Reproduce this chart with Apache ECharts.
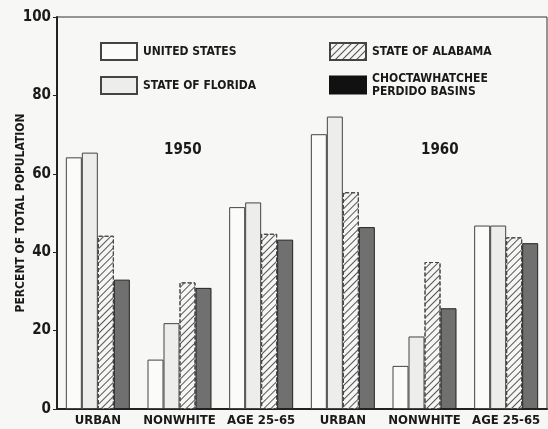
<!DOCTYPE html>
<html>
<head>
<meta charset="utf-8">
<script src="https://cdn.jsdelivr.net/npm/echarts@6/dist/echarts.min.js"></script>
<style>
  html, body { margin: 0; padding: 0; background: #f7f7f5; }
  #chart { width: 548px; height: 429px; }
</style>
</head>
<body>
<div id="chart"></div>
<script>
const categories = ['URBAN', 'NONWHITE', 'AGE 25-65', 'URBAN', 'NONWHITE', 'AGE 25-65'];
const seriesNames = ['UNITED STATES', 'STATE OF FLORIDA', 'STATE OF ALABAMA', 'CHOCTAWHATCHEE\nPERDIDO BASINS'];
const unitedStates = [64.2, 12.6, 51.5, 70.1, 11.0, 46.8];
const florida = [65.4, 21.9, 52.7, 74.6, 18.5, 46.8];
const alabama = [44.2, 32.3, 44.7, 55.3, 37.5, 43.8];
const basins = [33.0, 30.9, 43.2, 46.4, 25.7, 42.3];
const yTicks = [0, 20, 40, 60, 80, 100];
const yearLabels = ['1950', '1960'];

const FONT = 'DejaVu Sans Condensed';
const INK = '#1a1a1a';

const chart = echarts.init(document.getElementById('chart'));

// diagonal "/" hatching for Alabama
const hatch = {
    symbol: 'rect',
    symbolSize: 1,
    dashArrayX: [1, 0],
    dashArrayY: [1, 4],
    rotation: -Math.PI / 4,
    color: '#555'
};

function bar(name, data, style) {
    return {
        name: name,
        type: 'bar',
        data: data,
        barWidth: 16,
        barGap: '0%',
        itemStyle: style
    };
}

const legendText = { fontFamily: FONT, fontWeight: 'bold', fontSize: 12, color: INK, lineHeight: 13, padding: [0, 0, 0, 1] };

const option = {
    backgroundColor: '#f7f7f5',
    animation: false,
    textStyle: { fontFamily: FONT, fontWeight: 'bold', color: INK },
    grid: {
        left: 57, right: 1, top: 17, bottom: 20,
        containLabel: false, outerBoundsMode: 'none',
        show: true, borderColor: '#333', borderWidth: 1, backgroundColor: 'transparent'
    },
    legend: [
        {
            data: [seriesNames[0], seriesNames[1]],
            orient: 'vertical', left: 100, top: 42, padding: 0,
            icon: 'rect',
            itemWidth: 36, itemHeight: 17, itemGap: 15,
            textStyle: legendText
        },
        {
            data: [
                seriesNames[2],
                { name: seriesNames[3], itemStyle: { color: '#111', borderColor: '#111' } }
            ],
            orient: 'vertical', left: 329, top: 42, padding: 0,
            icon: 'rect',
            itemWidth: 36, itemHeight: 17, itemGap: 11,
            textStyle: legendText
        }
    ],
    xAxis: {
        type: 'category',
        data: categories,
        axisLine: { lineStyle: { color: '#222', width: 2 } },
        axisTick: { show: false },
        axisLabel: { fontFamily: FONT, fontWeight: 'bold', fontSize: 13, color: INK, margin: 5, interval: 0 }
    },
    yAxis: {
        type: 'value',
        min: yTicks[0], max: yTicks[yTicks.length - 1], interval: 20,
        name: 'PERCENT OF TOTAL POPULATION',
        nameLocation: 'middle', nameGap: 30, nameMoveOverlap: false,
        nameTextStyle: { fontFamily: FONT, fontWeight: 'bold', fontSize: 12, color: INK },
        axisLine: { show: true, lineStyle: { color: '#222', width: 2 } },
        axisTick: { show: true, length: 4, lineStyle: { color: '#222' } },
        splitLine: { show: false },
        axisLabel: { fontFamily: FONT, fontWeight: 'bold', fontSize: 15, color: INK, margin: 6 }
    },
    graphic: [
        { type: 'text', left: 164, top: 143, style: { text: yearLabels[0], font: 'bold 15px "DejaVu Sans Condensed"', fill: INK } },
        { type: 'text', left: 421, top: 143, style: { text: yearLabels[1], font: 'bold 15px "DejaVu Sans Condensed"', fill: INK } }
    ],
    series: [
        bar(seriesNames[0], unitedStates, { color: '#fbfbf9', borderColor: '#444', borderWidth: 1 }),
        bar(seriesNames[1], florida, { color: '#ededeb', borderColor: '#444', borderWidth: 1 }),
        bar(seriesNames[2], alabama, { color: '#f6f6f4', borderColor: '#444', borderWidth: 1, borderType: 'dashed', decal: hatch }),
        bar(seriesNames[3], basins, { color: '#707070', borderColor: '#222', borderWidth: 1 })
    ]
};

chart.setOption(option);
</script>
</body>
</html>
